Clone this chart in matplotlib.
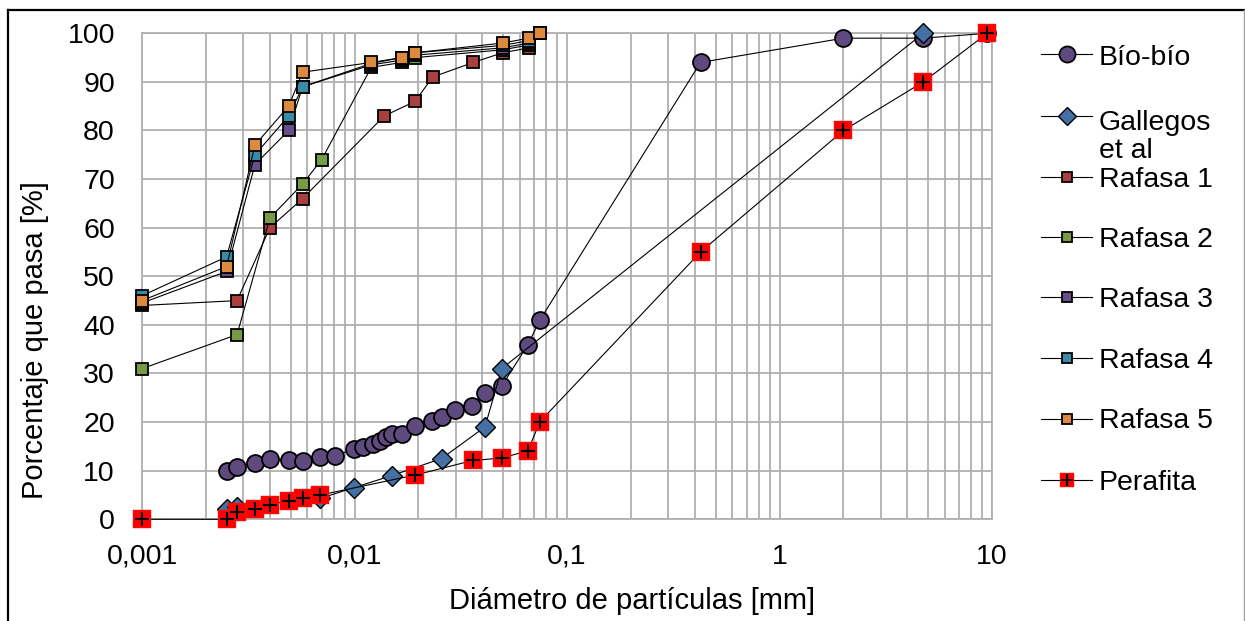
import matplotlib
matplotlib.use('Agg')
import matplotlib.pyplot as plt
from matplotlib.lines import Line2D
from matplotlib.ticker import FixedLocator, FuncFormatter, LogLocator, NullFormatter

plt.rcParams['font.family'] = ['Liberation Sans', 'DejaVu Sans']
plt.rcParams['font.size'] = 20

# ---------------- data ----------------
bio_x = [0.0025, 0.0028, 0.0034, 0.004, 0.0049, 0.0057, 0.0069, 0.0081, 0.0099, 0.011,
         0.0122, 0.0132, 0.0141, 0.015, 0.0167, 0.0193, 0.0231, 0.0257, 0.0297, 0.0356,
         0.0411, 0.0493, 0.0654, 0.0746, 0.425, 2.0, 4.75, 9.5]
bio_y = [10, 10.8, 11.6, 12.4, 12.2, 12.0, 12.8, 13.1, 14.4, 14.8,
         15.4, 16.2, 16.9, 17.6, 17.6, 19.3, 20.3, 21.0, 22.5, 23.3,
         26.0, 27.4, 35.9, 41.0, 94, 99, 99, 100]

gal_x = [0.0025, 0.0028, 0.0069, 0.0099, 0.015, 0.0257, 0.0411, 0.0493, 4.75]
gal_y = [2.2, 2.6, 4.3, 6.5, 9.0, 12.5, 19.0, 31.0, 100]

raf1_x = [0.001, 0.0028, 0.004, 0.0057, 0.0138, 0.0193, 0.0233, 0.0362, 0.0498, 0.0662, 0.0746]
raf1_y = [44, 45, 60, 66, 83, 86, 91, 94, 96, 97, 100]

raf2_x = [0.001, 0.0028, 0.004, 0.0057, 0.007, 0.012, 0.0167, 0.0193, 0.0498, 0.0662, 0.0746]
raf2_y = [31, 38, 62, 69, 74, 93, 94, 95, 96.6, 97.6, 100]

raf3_x = [0.001, 0.0025, 0.0034, 0.0049, 0.0057, 0.012, 0.0167, 0.0193, 0.0498, 0.0662, 0.0746]
raf3_y = [44.5, 51, 73, 80, 89, 93.5, 94.5, 95.5, 97, 98, 100]

raf4_x = [0.001, 0.0025, 0.0034, 0.0049, 0.0057, 0.012, 0.0167, 0.0193, 0.0498, 0.0662, 0.0746]
raf4_y = [46, 54, 75, 83, 89, 93.8, 95, 96, 97.5, 98.5, 100]

raf5_x = [0.001, 0.0025, 0.0034, 0.0049, 0.0057, 0.012, 0.0167, 0.0193, 0.0498, 0.0662, 0.0746]
raf5_y = [45, 52, 77, 85, 92, 94, 95, 96, 98, 99, 100]

per_x = [0.001, 0.0025, 0.0028, 0.0034, 0.004, 0.0049, 0.0057, 0.0069, 0.0193, 0.036,
         0.0493, 0.0654, 0.0746, 0.425, 2.0, 4.75, 9.5]
per_y = [0, 0, 1.5, 2.2, 3.0, 3.8, 4.4, 5.0, 9.1, 12.1, 12.6, 14.1, 20.1, 55, 80, 90, 100]

series_names = ['Bío-bío', 'Gallegos\net al', 'Rafasa 1', 'Rafasa 2', 'Rafasa 3',
                'Rafasa 4', 'Rafasa 5', 'Perafita']
x_tick_values = [0.001, 0.01, 0.1, 1, 10]
x_tick_labels = ['0,001', '0,01', '0,1', '1', '10']
y_tick_values = [0, 10, 20, 30, 40, 50, 60, 70, 80, 90, 100]

# ---------------- figure ----------------
W, H = 1245, 621
fig = plt.figure(figsize=(W / 100, H / 100), dpi=100)
L, R, T, B = 142, 992, 33.3, 519.3
ax = fig.add_axes([L / W, 1 - B / H, (R - L) / W, (B - T) / H])
ax.set_xscale('log')
ax.set_xlim(0.001, 10)
ax.set_ylim(0, 100)

grid_c = '#b0b0b0'
ax.xaxis.set_major_locator(FixedLocator(x_tick_values))
ax.xaxis.set_major_formatter(FuncFormatter(
    lambda v, p: x_tick_labels[x_tick_values.index(min(x_tick_values, key=lambda t: abs(t - v)))]))
ax.xaxis.set_minor_locator(LogLocator(base=10, subs=range(2, 10), numticks=20))
ax.xaxis.set_minor_formatter(NullFormatter())
ax.set_yticks(y_tick_values)
ax.grid(True, which='both', axis='x', color=grid_c, lw=1.3)
ax.grid(True, which='major', axis='y', color=grid_c, lw=1.3)
ax.set_axisbelow(True)
for s in ax.spines.values():
    s.set_color(grid_c)
    s.set_linewidth(1.3)
ax.tick_params(which='both', length=0)
ax.tick_params(axis='y', pad=19.5, labelsize=20.5)
ax.tick_params(axis='x', pad=17.5, labelsize=20.5)

line_kw = dict(color='black', lw=0.8, clip_on=False)

styles = {
    'Bío-bío': dict(marker='o', ms=12.2, mfc='#5f4a80', mec='black', mew=1.3),
    'Gallegos\net al': dict(marker='D', ms=10, mfc='#4570a5', mec='black', mew=1.0),
    'Rafasa 1': dict(marker='s', ms=8, mfc='#a9403f', mec='black', mew=1.3),
    'Rafasa 2': dict(marker='s', ms=8, mfc='#789a44', mec='black', mew=1.3),
    'Rafasa 3': dict(marker='s', ms=8, mfc='#674f8c', mec='black', mew=1.3),
    'Rafasa 4': dict(marker='s', ms=8, mfc='#3a8ba6', mec='black', mew=1.3),
    'Rafasa 5': dict(marker='s', ms=8, mfc='#db8a3e', mec='black', mew=1.3),
    'Perafita': dict(marker='s', ms=13, mfc='#ff0000', mec='#ff1a1a', mew=0.3),
}
plus_style = dict(marker='+', ms=10, mec='black', mew=1.5, ls='none')

data = [(bio_x, bio_y), (gal_x, gal_y), (raf1_x, raf1_y), (raf2_x, raf2_y),
        (raf3_x, raf3_y), (raf4_x, raf4_y), (raf5_x, raf5_y), (per_x, per_y)]

z = 3
for name, (xs, ys) in zip(series_names, data):
    ax.plot(xs, ys, zorder=z, **line_kw, **styles[name])
    z += 1
ax.plot(per_x, per_y, zorder=z, clip_on=False, **plus_style)

# axis labels
ax.set_xlabel('Diámetro de partículas [mm]', fontsize=21)
ax.xaxis.set_label_coords((632 - L) / (R - L), (B - 601) / (B - T))
ax.xaxis.label.set_va('center')
ax.set_ylabel('Porcentaje que pasa [%]', fontsize=21)
ax.yaxis.set_label_coords((35 - L) / (R - L), (B - 340) / (B - T))
ax.yaxis.label.set_va('center')
ax.yaxis.label.set_ha('center')

# manual legend (layout in pixel positions)
def fx(px):
    return px / W

def fy(py):
    return 1 - py / H

leg_marker_y = [54, 116, 177, 237, 297, 358, 419, 480]
leg_base_y = [65, 158, 187, 247, 307, 368, 428, 490]
leg_scale = {'Bío-bío': 0.95, 'Gallegos\net al': 0.9, 'Perafita': 0.8}
for name, my, by in zip(series_names, leg_marker_y, leg_base_y):
    st = dict(styles[name])
    if name.startswith('Rafasa'):
        st['ms'] = 7
    else:
        st['ms'] = st['ms'] * leg_scale[name]
    fig.add_artist(Line2D([fx(1041), fx(1092)], [fy(my), fy(my)], transform=fig.transFigure,
                          color='black', lw=0.8))
    fig.add_artist(Line2D([fx(1066.5)], [fy(my)], transform=fig.transFigure, ls='none', **st))
    if name == 'Perafita':
        fig.add_artist(Line2D([fx(1066.5)], [fy(my)], transform=fig.transFigure,
                              marker='+', ms=8, mec='black', mew=1.5, ls='none'))
    fig.text(fx(1099), fy(by), name, fontsize=20.5, ha='left', va='baseline', linespacing=1.12)

# figure frame
fig.add_artist(Line2D([fx(7.5), fx(7.5)], [0, fy(10)], transform=fig.transFigure, color='black', lw=1.6))
fig.add_artist(Line2D([fx(7.5), fx(1243.5)], [fy(10), fy(10)], transform=fig.transFigure, color='black', lw=1.6))
fig.add_artist(Line2D([fx(1243.5), fx(1243.5)], [0, fy(10)], transform=fig.transFigure, color='#a0a0a0', lw=1.0))

fig.savefig('out.png', dpi=100)
